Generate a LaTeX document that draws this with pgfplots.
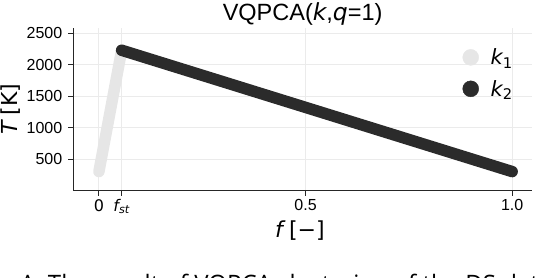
\documentclass[border=0pt]{standalone}
\usepackage{fontspec}
\setmainfont{Liberation Sans}
\newfontfamily\dvs{DejaVu Sans}
\newfontfamily\osans{Open Sans}
\usepackage{pgfplots}
\pgfplotsset{compat=1.18}
\definecolor{kone}{HTML}{E6E6E6}
\definecolor{ktwo}{HTML}{2B2B2B}
\definecolor{gridc}{HTML}{EBEBEB}
\definecolor{spine}{HTML}{262626}
\newcommand{\mi}[1]{{\dvs\itshape #1}}
\begin{document}
\begin{tikzpicture}
\begin{axis}[
  at={(0pt,0pt)}, anchor=south west,
  scale only axis, width=458.7pt, height=162.7pt,
  xmin=-0.062, xmax=1.048, ymin=-4, ymax=2584,
  axis lines=left,
  axis line style={-, spine, line width=1.2pt},
  tick align=outside, major tick length=5pt,
  tick style={spine, line width=1pt},
  grid=major,
  major grid style={gridc, line width=0.9pt},
  xtick={0,0.055,0.5,1.0},
  xticklabels={{\dvs 0}, {\mi{f}\textsubscript{\mi{st}}}, 0.5, 1.0},
  ytick={500,1000,1500,2000,2500},
  /pgf/number format/assume math mode=true,
  /pgf/number format/1000 sep={},
  ticklabel style={font=\fontsize{16}{17}\selectfont, text=black},
  yticklabel style={xshift=-2.5pt},
  title={VQPCA(\mi{k},\mi{q}=1)},
  title style={font=\fontsize{23.5}{25}\selectfont, at={(axis description cs:0.5,1)}, anchor=base, yshift=1pt},
  xlabel={\mi{f} {\dvs[−]}},
  xlabel style={font=\fontsize{22}{24}\selectfont, at={(axis description cs:0.494,-0.2907)}, anchor=base},
  ylabel={\mi{T} {\dvs[K]}},
  ylabel style={font=\fontsize{22}{24}\selectfont, at={(axis description cs:-0.1217,0.5)}, anchor=base},
  legend style={draw=none, fill=none, font=\fontsize{21}{22}\selectfont,
    at={(axis description cs:0.842,0.899)}, anchor=north west,
    row sep=10pt, cells={anchor=west},
    /tikz/every odd column/.append style={column sep=10pt}},
  legend image code/.code={\draw[#1] plot coordinates {(0pt,0pt)};},
]
\addplot[kone, line width=11.5pt, line cap=round, forget plot] coordinates {(0,300) (0.055,2230)};
\addplot[ktwo, line width=11.5pt, line cap=round, forget plot] coordinates {(0.055,2230) (1,300)};
\addlegendimage{only marks, mark=*, mark size=8pt, mark options={draw=kone, fill=kone}}
\addlegendentry{\mi{k}\textsubscript{\dvs 1}}
\addlegendimage{only marks, mark=*, mark size=8pt, mark options={draw=ktwo, fill=ktwo}}
\addlegendentry{\mi{k}\textsubscript{\dvs 2}}
\end{axis}
\node[anchor=base west, inner sep=0pt, font=\osans\fontsize{24}{26}\selectfont] at (-53.3pt,-101.5pt) {A: The result of VQPCA clustering of the DS data};
\pgfresetboundingbox
\path[use as bounding box] (-73.3pt,-87.3pt) rectangle (476.7pt,190.7pt);
\end{tikzpicture}
\end{document}
